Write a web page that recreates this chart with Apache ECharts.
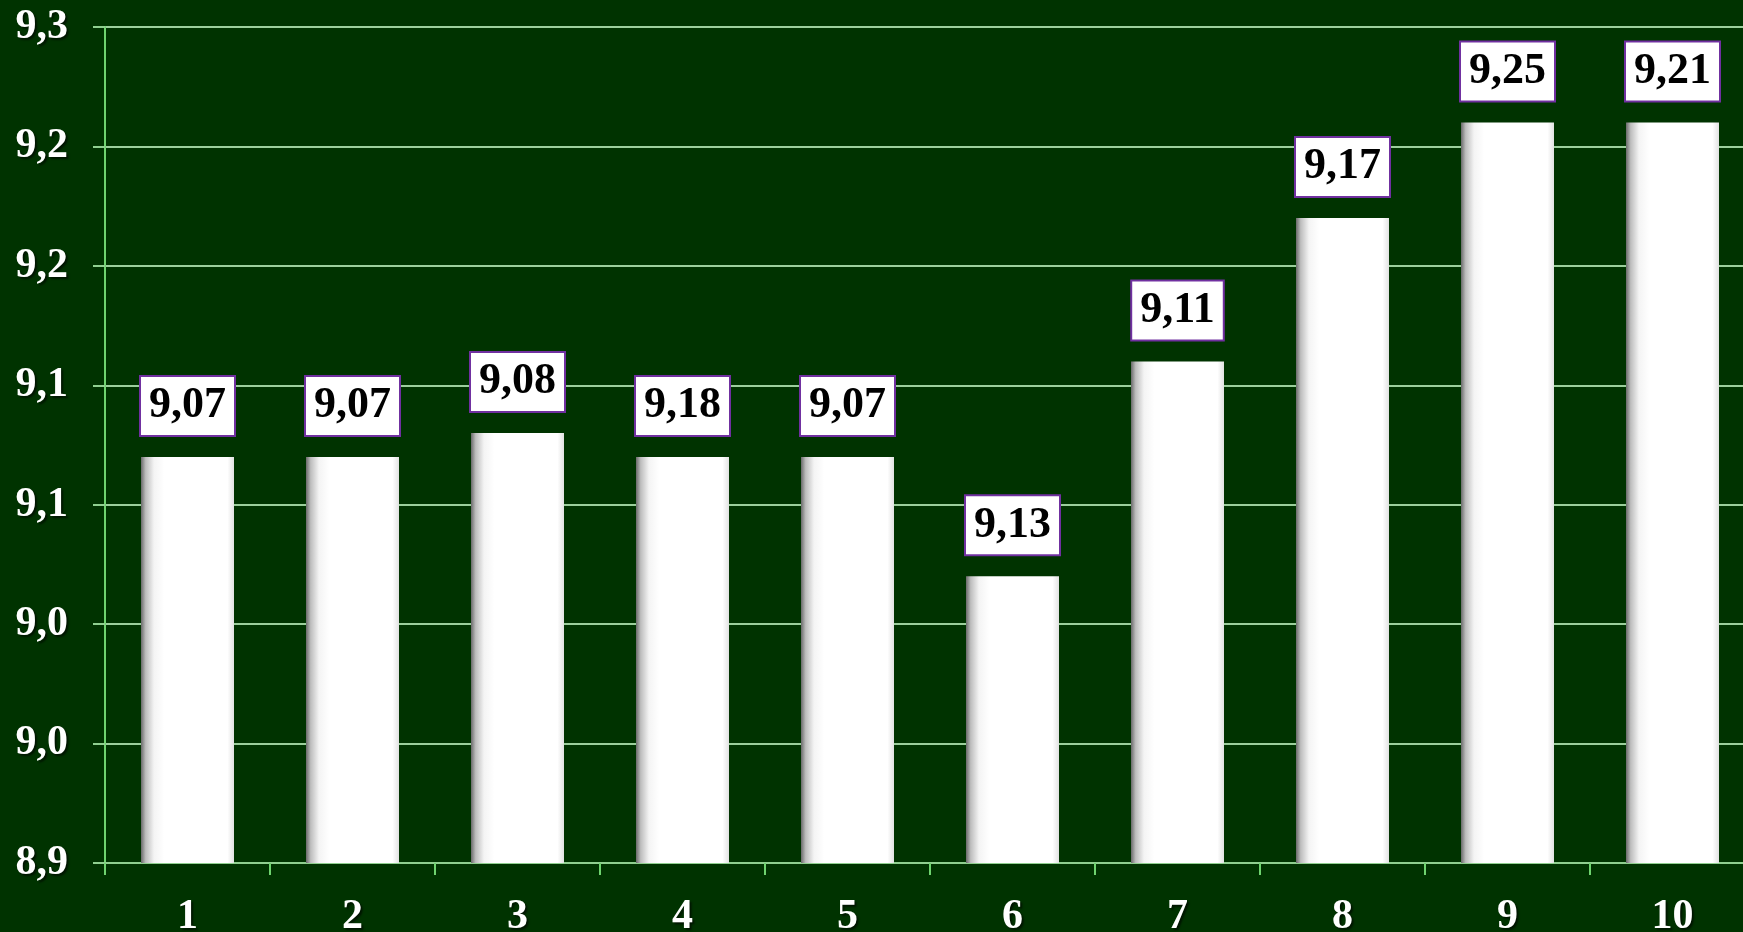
<!DOCTYPE html>
<html>
<head>
<meta charset="utf-8">
<script src="https://cdn.jsdelivr.net/npm/echarts@6/dist/echarts.min.js"></script>
<style>
html,body{margin:0;padding:0;background:#003300;}
#chart{width:1743px;height:932px;}
</style>
</head>
<body>
<div id="chart"></div>
<script>
const categories = ['1','2','3','4','5','6','7','8','9','10'];
const barValues = [9.07, 9.07, 9.08, 9.07, 9.07, 9.02, 9.11, 9.17, 9.21, 9.21];
const labelTexts = ['9,07','9,07','9,08','9,18','9,07','9,13','9,11','9,17','9,25','9,21'];
const yMin = 8.9, yMax = 9.25, yStep = 0.05;

const chart = echarts.init(document.getElementById('chart'));
const font = "'Liberation Serif','Times New Roman',serif";
const shadow = { textShadowColor: 'rgba(0,0,0,0.6)', textShadowOffsetX: 2, textShadowOffsetY: 2, textShadowBlur: 2 };
chart.setOption({
  backgroundColor: '#003300',
  animation: false,
  grid: { left: 105, right: -12, top: 27, bottom: 69, containLabel: false, outerBoundsMode: 'none' },
  xAxis: {
    type: 'category',
    data: categories,
    axisLine: { show: true, lineStyle: { color: '#8fcf8f', width: 2 } },
    axisTick: { show: true, length: 12, lineStyle: { color: '#6fd36f', width: 2 } },
    axisLabel: Object.assign({
      color: '#ffffff', fontFamily: font, fontWeight: 'bold', fontSize: 42, margin: 33
    }, shadow)
  },
  yAxis: {
    type: 'value',
    min: yMin, max: yMax, interval: yStep,
    axisLine: { show: true, lineStyle: { color: '#6fd36f', width: 2 } },
    axisTick: { show: true, length: 12, lineStyle: { color: '#8fcf8f', width: 2 } },
    splitLine: { show: true, lineStyle: { color: '#9ccf9c', width: 2 } },
    axisLabel: Object.assign({
      color: '#ffffff', fontFamily: font, fontWeight: 'bold', fontSize: 42, margin: 37,
      formatter: v => (Math.round(v * 10 + 1e-6) / 10).toFixed(1).replace('.', ',')
    }, shadow)
  },
  series: [{
    type: 'bar',
    data: barValues,
    barWidth: 93,
    itemStyle: {
      color: new echarts.graphic.LinearGradient(0, 0, 1, 0, [
        { offset: 0, color: '#6a6a6a' },
        { offset: 0.05, color: '#bdbdbd' },
        { offset: 0.14, color: '#f4f4f4' },
        { offset: 0.25, color: '#ffffff' },
        { offset: 0.93, color: '#ffffff' },
        { offset: 1, color: '#e2e2e2' }
      ])
    },
    label: {
      show: true,
      position: 'top',
      distance: 22,
      formatter: p => labelTexts[p.dataIndex],
      color: '#000000',
      fontFamily: font,
      fontWeight: 'bold',
      fontSize: 44,
      lineHeight: 46,
      backgroundColor: '#ffffff',
      borderColor: '#7030a0',
      borderWidth: 2,
      padding: [6, 8, 6, 8]
    }
  }]
});
</script>
</body>
</html>
